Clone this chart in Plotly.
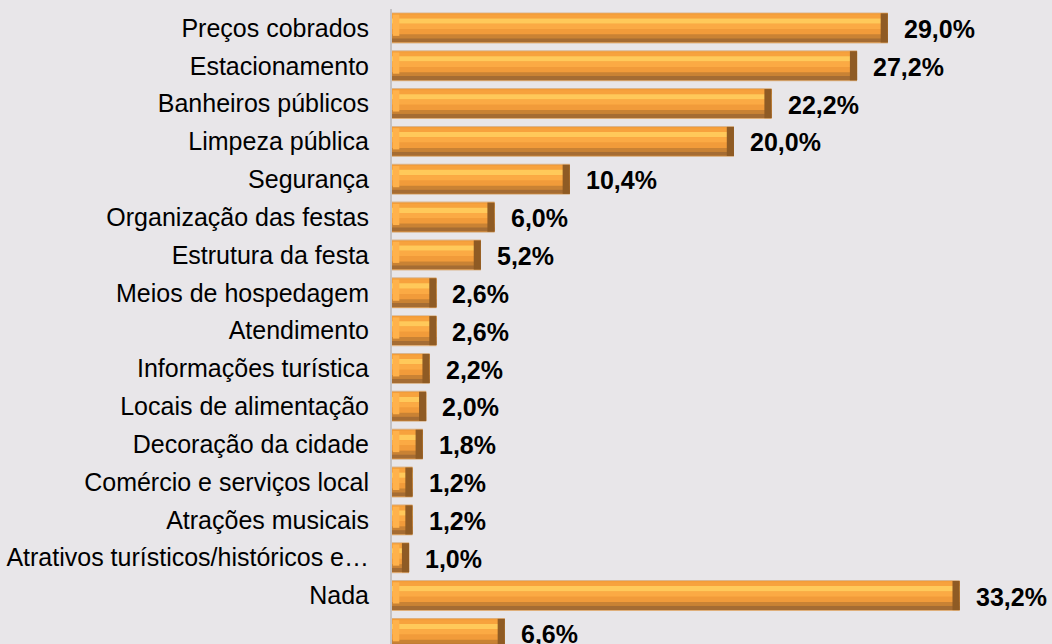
import plotly.graph_objects as go

categories = [
    "Preços cobrados", "Estacionamento", "Banheiros públicos", "Limpeza pública",
    "Segurança", "Organização das festas", "Estrutura da festa", "Meios de hospedagem",
    "Atendimento", "Informações turística", "Locais de alimentação", "Decoração da cidade",
    "Comércio e serviços local", "Atrações musicais", "Atrativos turísticos/históricos e…",
    "Nada", "Outros",
]
values = [29.0, 27.2, 22.2, 20.0, 10.4, 6.0, 5.2, 2.6, 2.6, 2.2, 2.0, 1.8, 1.2, 1.2, 1.0, 33.2, 6.6]
labels = [f"{v:.1f}%".replace(".", ",") for v in values]

pos = list(range(len(categories)))

BAR_W = 0.82
# vertical bevel bands: (offset from top, thickness, colour) in category units
bands = [
    (0.00, 0.82, "#D9B690"),
    (0.025, 0.77, "#F39C38"),
    (0.06, 0.10, "#F7A23D"),
    (0.16, 0.14, "#FFC95A"),
    (0.30, 0.14, "#FBAA44"),
    (0.44, 0.14, "#F19B3A"),
    (0.58, 0.10, "#C98234"),
    (0.68, 0.11, "#A56C33"),
]

fig = go.Figure()
for off, w, col in bands:
    fig.add_trace(go.Bar(
        y=pos, x=values, orientation="h",
        offset=-BAR_W / 2 + off, width=w,
        marker=dict(color=col, line=dict(width=0)),
        hoverinfo="skip", showlegend=False,
    ))

# end caps for the bevel look
cap = 0.42
fig.add_trace(go.Bar(
    y=pos, x=[cap] * len(values), base=[v - cap for v in values], orientation="h",
    offset=-BAR_W / 2 + 0.025, width=0.77,
    marker=dict(color="#8F5B24", line=dict(width=0)),
    hoverinfo="skip", showlegend=False,
))
fig.add_trace(go.Bar(
    y=pos, x=[cap * 0.9] * len(values), base=[0.05] * len(values), orientation="h",
    offset=-BAR_W / 2 + 0.06, width=0.56,
    marker=dict(color="#FFB24C", line=dict(width=0)),
    hoverinfo="skip", showlegend=False,
))

for p, v, t in zip(pos, values, labels):
    fig.add_annotation(
        x=v, y=p, text=f"<b>{t}</b>", showarrow=False,
        xanchor="left", yanchor="middle", xshift=14, yshift=-1,
        font=dict(family="Liberation Sans, Arial, sans-serif", size=25, color="#000000"),
    )

fig.update_layout(
    width=1052, height=644,
    barmode="overlay",
    paper_bgcolor="#E8E6E9", plot_bgcolor="#E8E6E9",
    margin=dict(l=392, r=0, t=9, b=0, autoexpand=False),
    font=dict(family="Liberation Sans, Arial, sans-serif", size=25, color="#000000"),
    xaxis=dict(range=[0, 38.6], visible=False, fixedrange=True),
    yaxis=dict(
        range=[16.28, -0.5], tickmode="array", tickvals=pos, ticktext=categories,
        showline=True, linecolor="#C4C2C5", linewidth=2, showgrid=False, zeroline=False,
        ticks="", ticklabelstandoff=16, automargin=False,
        tickfont=dict(size=25),
    ),
)

fig.write_html(
    "out.html",
    config={"displayModeBar": False},
    post_script="document.body.style.margin='0';document.body.style.background='#E8E6E9';document.body.style.overflow='hidden';",
)
